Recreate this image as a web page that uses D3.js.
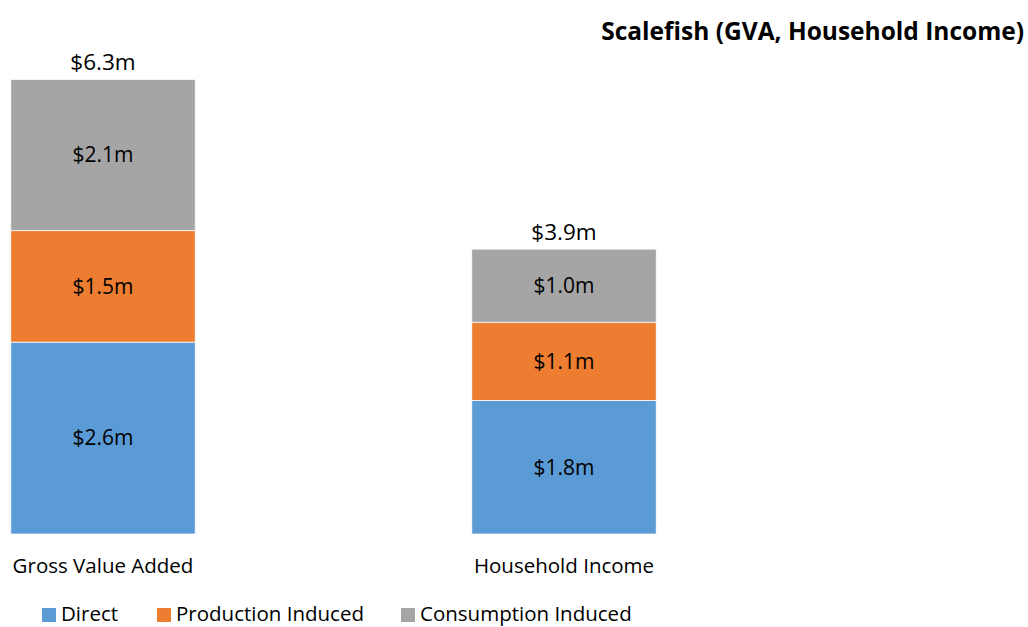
<!DOCTYPE html>
<html>
<head>
<meta charset="utf-8">
<script src="https://cdn.jsdelivr.net/npm/d3@7"></script>
<style>
  body { margin: 0; background: #fff; }
  svg text { font-family: "Open Sans", sans-serif; fill: #000; }
</style>
</head>
<body>
<svg width="1028" height="627"></svg>
<script>
var svg = d3.select("svg"),
  width = +svg.attr("width"),
  height = +svg.attr("height");

// Data
var categories = ["Gross Value Added", "Household Income"];
var seriesNames = ["Direct", "Production Induced", "Consumption Induced"];
var direct = [2.60, 1.81];
var production = [1.51, 1.06];
var consumption = [2.05, 0.99];
var totalLabels = ["$6.3m", "$3.9m"];
var colors = ["#5B9BD5", "#ED7D31", "#A5A5A5"];

var fmt = v => "$" + (Math.round(v * 10 + 1e-6) / 10).toFixed(1) + "m";

// build rows for the stack
var rows = categories.map(function (c, i) {
  return { cat: c, "Direct": direct[i], "Production Induced": production[i], "Consumption Induced": consumption[i] };
});
var stacked = d3.stack().keys(seriesNames)(rows);

// scales
var x = d3.scaleBand()
  .domain(categories)
  .range([-127.5, 794.5])
  .paddingInner(0.6)
  .paddingOuter(0.3);
var y = d3.scaleLinear().domain([0, 7]).range([534, 17.4]);
var color = d3.scaleOrdinal().domain(seriesNames).range(colors);

// bars
var g = svg.append("g").attr("class", "bars");
var layer = g.selectAll("g.layer")
  .data(stacked)
  .enter().append("g")
  .attr("class", "layer")
  .attr("fill", d => color(d.key));

layer.selectAll("rect")
  .data(d => d)
  .enter().append("rect")
  .attr("x", d => x(d.data.cat))
  .attr("width", x.bandwidth())
  .attr("y", d => y(d[1]))
  .attr("height", d => y(d[0]) - y(d[1]))
  .attr("stroke", "#fff")
  .attr("stroke-width", 0.75);

// segment labels
layer.each(function (s) {
  d3.select(this).selectAll("text")
    .data(s)
    .enter().append("text")
    .attr("x", d => x(d.data.cat) + x.bandwidth() / 2)
    .attr("y", d => (y(d[0]) + y(d[1])) / 2)
    .attr("dy", "0.35em")
    .attr("text-anchor", "middle")
    .attr("font-size", "21px")
    .text(d => fmt(d.data[s.key]));
});

// totals above bars
var topLayer = stacked[stacked.length - 1];
svg.append("g").attr("class", "totals").selectAll("text")
  .data(topLayer)
  .enter().append("text")
  .attr("x", d => x(d.data.cat) + x.bandwidth() / 2)
  .attr("y", d => y(d[1]) - 9)
  .attr("text-anchor", "middle")
  .attr("font-size", "22.5px")
  .text((d, i) => totalLabels[i]);

// category axis labels
svg.append("g").selectAll("text")
  .data(categories)
  .enter().append("text")
  .attr("x", d => x(d) + x.bandwidth() / 2)
  .attr("y", 573)
  .attr("text-anchor", "middle")
  .attr("font-size", "20.5px")
  .text(d => d);

// title
svg.append("text")
  .attr("x", 1024)
  .attr("y", 40)
  .attr("text-anchor", "end")
  .attr("font-size", "24.5px")
  .attr("font-weight", "bold")
  .text("Scalefish (GVA, Household Income)");

// legend
var legendX = [42, 157, 401];
var leg = svg.append("g").selectAll("g")
  .data(seriesNames)
  .enter().append("g")
  .attr("transform", (d, i) => "translate(" + legendX[i] + ",0)");
leg.append("rect")
  .attr("y", 608)
  .attr("width", 14)
  .attr("height", 14)
  .attr("fill", d => color(d));
leg.append("text")
  .attr("x", 19)
  .attr("y", 621)
  .attr("font-size", "20.5px")
  .text(d => d);
</script>
</body>
</html>
